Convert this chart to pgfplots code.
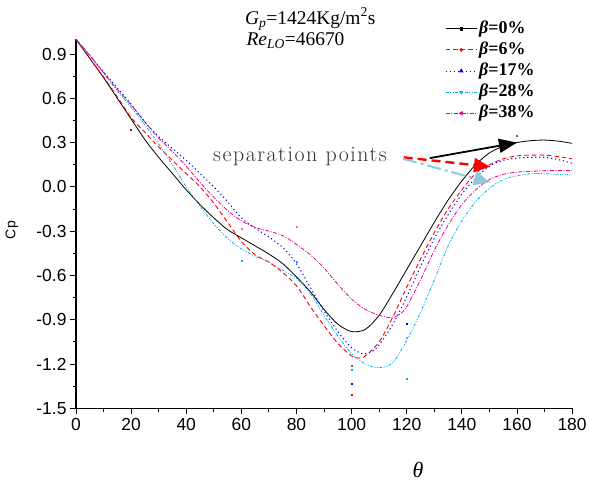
\documentclass[border=0pt]{standalone}
\usepackage{fontspec}
\newfontfamily\tnr{Liberation Serif}
\newfontfamily\arial{Liberation Sans}
\newfontfamily\lmsp[LetterSpace=7]{Latin Modern Roman}
\usepackage{pgfplots}
\pgfplotsset{compat=1.18}
\usetikzlibrary{arrows.meta}
\definecolor{lblue}{RGB}{143,200,216}

\pgfplotstableread{
t cp
0 1.00
5 0.87
10 0.74
15 0.60
20 0.46
25 0.32
30 0.20
35 0.09
40 -0.02
45 -0.12
50 -0.21
55 -0.29
60 -0.345
65 -0.40
70 -0.455
75 -0.52
80 -0.61
85 -0.71
90 -0.83
95 -0.93
100 -0.98
105 -0.965
110 -0.87
115 -0.72
120 -0.56
125 -0.40
130 -0.24
135 -0.09
140 0.04
145 0.15
150 0.23
155 0.275
160 0.30
165 0.313
170 0.317
175 0.31
180 0.295
}\bzero

\pgfplotstableread{
t cp
0 1.00
5 0.87
10 0.745
15 0.61
20 0.47
25 0.37
30 0.27
35 0.18
40 0.09
45 0.00
50 -0.11
55 -0.24
60 -0.37
65 -0.46
70 -0.51
75 -0.58
80 -0.67
85 -0.81
90 -0.94
95 -1.06
100 -1.145
103 -1.16
105 -1.145
110 -1.05
115 -0.88
120 -0.68
125 -0.49
130 -0.31
135 -0.15
140 -0.02
145 0.09
150 0.15
155 0.19
160 0.21
165 0.215
170 0.215
175 0.205
180 0.19
}\bsix

\pgfplotstableread{
t cp
0 1.00
5 0.89
10 0.78
15 0.67
20 0.56
25 0.44
30 0.34
35 0.26
40 0.18
45 0.09
50 0.00
55 -0.10
60 -0.21
65 -0.28
70 -0.34
75 -0.41
80 -0.52
85 -0.68
90 -0.84
95 -0.98
100 -1.09
104 -1.13
107 -1.12
110 -1.07
115 -0.93
120 -0.745
125 -0.54
130 -0.35
135 -0.19
140 -0.05
145 0.06
150 0.14
155 0.18
160 0.195
165 0.20
170 0.20
175 0.185
180 0.16
}\bseventeen

\pgfplotstableread{
t cp
0 1.00
5 0.89
10 0.77
15 0.65
20 0.54
25 0.42
30 0.29
35 0.15
40 0.00
45 -0.13
50 -0.25
55 -0.35
60 -0.42
65 -0.47
70 -0.51
75 -0.565
80 -0.62
85 -0.72
90 -0.87
95 -1.01
100 -1.13
105 -1.20
110 -1.225
115 -1.19
120 -1.04
125 -0.85
130 -0.63
135 -0.40
140 -0.23
145 -0.10
150 -0.01
155 0.05
160 0.075
165 0.09
170 0.09
175 0.085
180 0.08
}\btwentyeight

\pgfplotstableread{
t cp
0 1.00
5 0.89
10 0.775
15 0.66
20 0.555
25 0.44
30 0.33
35 0.24
40 0.14
45 0.03
50 -0.07
55 -0.16
60 -0.23
65 -0.275
70 -0.30
75 -0.33
80 -0.39
85 -0.46
90 -0.55
95 -0.66
100 -0.76
105 -0.83
110 -0.87
114 -0.885
117 -0.87
120 -0.81
125 -0.63
130 -0.43
135 -0.26
140 -0.12
145 -0.02
150 0.05
155 0.085
160 0.10
165 0.105
170 0.11
175 0.11
180 0.11
}\bthirtyeight

\begin{document}
\begin{tikzpicture}
\begin{axis}[
  scale only axis, width=496bp, height=369bp,
  xmin=0, xmax=180, ymin=-1.5, ymax=1.0,
  axis lines=left, axis line style={-, line width=1.1pt},
  tick align=outside, major tick length=6bp, minor tick length=3.5bp,
  every tick/.style={black, line width=0.9pt},
  xtick={0,20,...,180}, minor x tick num=1,
  xticklabels={0,20,40,60,80,100,120,140,160,180},
  ytick={-1.5,-1.2,-0.9,-0.6,-0.3,0,0.3,0.6,0.9},
  yticklabels={-1.5,-1.2,-0.9,-0.6,-0.3,0.0,0.3,0.6,0.9},
  minor y tick num=1,
  tick label style={font=\arial\fontsize{17.5}{19}\selectfont},
  clip=false,
  legend image code/.code={\draw[mark repeat=2,mark phase=2,#1] plot coordinates {(0bp,0bp) (15.5bp,0bp) (31bp,0bp)};},
  legend style={draw=none, fill=none, at={(axis cs:133.9,1.138)}, anchor=north west,
    inner sep=0pt, row sep=1.6bp,
    font=\tnr\bfseries\fontsize{18}{20}\selectfont,
    nodes={inner sep=2bp, text height=12bp, text depth=3.5bp},
    cells={anchor=west}},
]
\addlegendimage{black, line width=0.8pt, mark=square*, mark size=1.3pt, mark options={solid}}
\addlegendentry{{\itshape β}=0\%}
\addlegendimage{red, line width=0.9pt, dash pattern=on 4.5bp off 3bp, mark=*, mark size=1.4pt, mark options={solid}}
\addlegendentry{{\itshape β}=6\%}
\addlegendimage{blue, line width=1pt, dash pattern=on 1.2bp off 2.8bp, mark=triangle*, mark size=1.8pt, mark options={solid}}
\addlegendentry{{\itshape β}=17\%}
\addlegendimage{cyan, line width=0.8pt, dash pattern=on 3bp off 1.5bp on 1bp off 1.5bp on 1bp off 1.5bp, mark=triangle*, mark size=1.8pt, mark options={solid, rotate=180}}
\addlegendentry{{\itshape β}=28\%}
\addlegendimage{magenta, line width=0.8pt, dash pattern=on 4bp off 1.5bp on 1bp off 1.5bp, mark=triangle*, mark size=1.8pt, mark options={solid, rotate=90}}
\addlegendentry{{\itshape β}=38\%}

\addplot[forget plot, black, line width=0.8pt, smooth] table[x=t,y=cp] {\bzero};
\addplot[forget plot, red, line width=0.9pt, dash pattern=on 4.5bp off 3bp, smooth] table[x=t,y=cp] {\bsix};
\addplot[forget plot, blue, line width=1pt, dash pattern=on 1.2bp off 2.8bp, smooth] table[x=t,y=cp] {\bseventeen};
\addplot[forget plot, cyan, line width=0.8pt, dash pattern=on 3bp off 1.5bp on 1bp off 1.5bp on 1bp off 1.5bp, smooth] table[x=t,y=cp] {\btwentyeight};
\addplot[forget plot, magenta, line width=0.8pt, dash pattern=on 4bp off 1.5bp on 1bp off 1.5bp, smooth] table[x=t,y=cp] {\bthirtyeight};

% stray marker dots
\addplot[forget plot, only marks, mark=square*, mark size=0.5pt, black!60] coordinates {(100,-1.21) (160,0.35)};
\addplot[forget plot, only marks, mark=square*, mark size=0.5pt, red] coordinates {(100,-1.41) (20,0.385)};
\addplot[forget plot, only marks, mark=square*, mark size=0.5pt, blue] coordinates {(100,-1.33) (120,-0.93)};
\addplot[forget plot, only marks, mark=square*, mark size=0.5pt, cyan] coordinates {(100,-1.24) (120,-1.30) (60,-0.50) (80,-0.51)};
\addplot[forget plot, only marks, mark=square*, mark size=0.5pt, magenta!60] coordinates {(120,-1.02) (60,-0.28) (80,-0.27)};

% annotations
\node[anchor=base west, font=\tnr\fontsize{19.5}{21}\selectfont, inner sep=0pt] at (axis cs:61.3,1.103) {\textit{G}\textsubscript{\textit{p}}=1424Kg/m\textsuperscript{2}s};
\node[anchor=base west, font=\tnr\fontsize{19.5}{21}\selectfont, inner sep=0pt] at (axis cs:61.8,0.961) {\textit{Re}\textsubscript{\textit{LO}}=46670};
\node[anchor=base west, font=\lmsp\fontsize{22}{24}\selectfont, text=black!80, inner sep=0pt] at (axis cs:49.7,0.17) {separation points};
\draw[black, line width=1.8bp, -{Triangle[length=18bp,width=14bp]}] (axis cs:128.4,0.195) -- (axis cs:160,0.30);
\draw[red, line width=2.4bp, dash pattern=on 9bp off 5bp, -{Triangle[length=16bp,width=14bp]}] (axis cs:118.9,0.20) -- (axis cs:150.2,0.136);
\draw[lblue, line width=2bp, dash pattern=on 14bp off 4bp on 3bp off 4bp, -{Triangle[length=16bp,width=14bp]}] (axis cs:118.7,0.19) -- (axis cs:150.2,0.03);

\node[font=\tnr\itshape\fontsize{22}{24}\selectfont] at (axis cs:124.1,-1.92) {θ};
\node[rotate=90, font=\arial\fontsize{14}{16}\selectfont] at (axis cs:-23.2,-0.293) {Cp};

\coordinate (bl) at (axis cs:-27.58,-2.0085);
\coordinate (tr) at (axis cs:186.14,1.266);
\end{axis}
\pgfresetboundingbox
\useasboundingbox (bl) rectangle (tr);
\end{tikzpicture}
\end{document}
